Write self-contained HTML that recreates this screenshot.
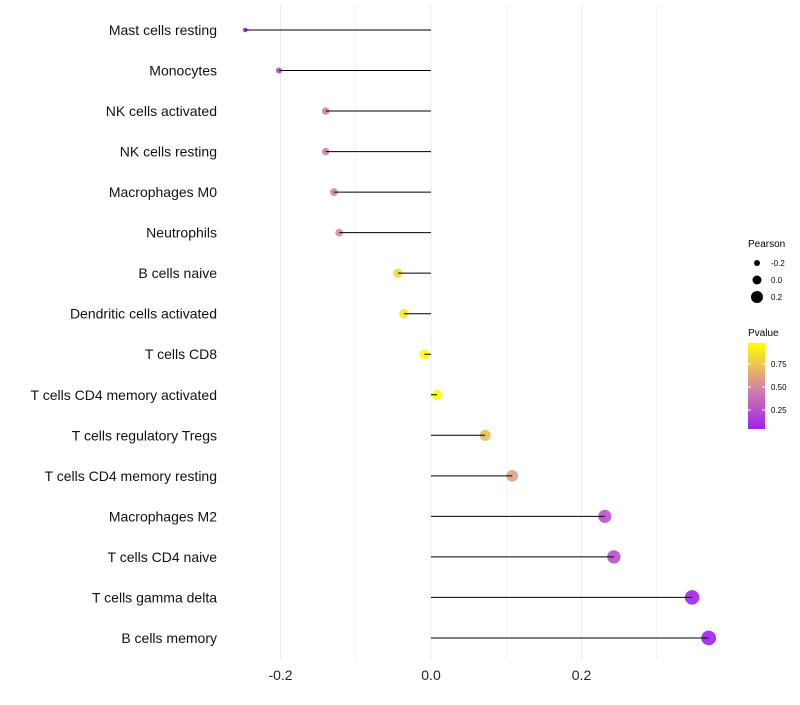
<!DOCTYPE html>
<html><head><meta charset="utf-8"><style>
body{margin:0;background:#fff;font-family:"Liberation Sans",sans-serif}
svg text{font-family:"Liberation Sans",sans-serif}
</style></head><body>
<svg id="chart" width="800" height="700" xmlns="http://www.w3.org/2000/svg">
<defs><linearGradient id="pg" x1="0" y1="1" x2="0" y2="0">
<stop offset="0" stop-color="#a020f0"/><stop offset="0.5" stop-color="#d88aa0"/><stop offset="1" stop-color="#ffff00"/></linearGradient></defs>
<g id="grid"></g><g id="points"></g><g id="stems"></g><g id="labels"></g>
<g>
<text x="748" y="247" font-size="10">Pearson</text>
<circle cx="757" cy="263" r="3" fill="#000"/><text x="771" y="266" font-size="8">-0.2</text>
<circle cx="757" cy="280" r="4.5" fill="#000"/><text x="771" y="283" font-size="8">0.0</text>
<circle cx="757" cy="297" r="6" fill="#000"/><text x="771" y="300" font-size="8">0.2</text>
</g>
<g>
<text x="748" y="336" font-size="10">Pvalue</text>
<rect x="748" y="343" width="17" height="86" fill="url(#pg)"/>
<line x1="748" x2="751" y1="364" y2="364" stroke="#fff"/><line x1="762" x2="765" y1="364" y2="364" stroke="#fff"/>
<line x1="748" x2="751" y1="387" y2="387" stroke="#fff"/><line x1="762" x2="765" y1="387" y2="387" stroke="#fff"/>
<line x1="748" x2="751" y1="410" y2="410" stroke="#fff"/><line x1="762" x2="765" y1="410" y2="410" stroke="#fff"/>
<text x="771" y="367" font-size="8">0.75</text><text x="771" y="390" font-size="8">0.50</text><text x="771" y="413" font-size="8">0.25</text>
</g>
</svg>
<script>
const categories=["Mast cells resting","Monocytes","NK cells activated","NK cells resting","Macrophages M0","Neutrophils","B cells naive","Dendritic cells activated","T cells CD8","T cells CD4 memory activated","T cells regulatory  Tregs","T cells CD4 memory resting","Macrophages M2","T cells CD4 naive","T cells gamma delta","B cells memory"];
const pearson=[-0.247,-0.202,-0.140,-0.140,-0.129,-0.122,-0.044,-0.036,-0.009,0.008,0.072,0.108,0.231,0.243,0.347,0.369];
const pvalue=[0.05,0.22,0.47,0.47,0.48,0.5,0.84,0.86,0.96,0.97,0.72,0.6,0.27,0.25,0.07,0.06];
const xTicks=[-0.2,0.0,0.2];
const xTickLabels=["-0.2","0.0","0.2"];
const ns="http://www.w3.org/2000/svg";
const X=v=>431+v*752.5;
const Y=i=>30+i*40.53;
const R=v=>Math.sqrt(Math.max(2.25,25+80*v));
function lerp(a,b,t){return a.map((x,i)=>Math.round(x+(b[i]-x)*t));}
function col(p){const t=Math.min(1,Math.max(0,(p-0.05)/0.92));
 const s=[[160,32,240],[216,138,160],[255,255,0]];
 const c=t<0.5?lerp(s[0],s[1],t*2):lerp(s[1],s[2],(t-0.5)*2);return `rgb(${c})`;}
function mk(tag,at,parent){const e=document.createElementNS(ns,tag);for(const k in at)e.setAttribute(k,at[k]);parent.appendChild(e);return e;}
const grid=document.getElementById('grid'),points=document.getElementById('points'),stems=document.getElementById('stems'),labels=document.getElementById('labels');
for(let k=-2;k<=3;k++){
 const v=k/10;
 const l=mk('line',{x1:X(v),x2:X(v),y1:5,y2:660,stroke:'#ebebeb','stroke-width':k%2===0?1:0.6},grid);
 
 
}
xTicks.forEach((v,i)=>{
 const t=mk('text',{x:X(v),y:680,'font-size':14,'text-anchor':'middle',fill:'#222'},labels);t.textContent=xTickLabels[i];
 
 
});
categories.forEach((c,i)=>{
 const t=mk('text',{x:217,y:Y(i)+5,'font-size':14,'text-anchor':'end',fill:'#111'},labels);t.textContent=c;
 
 
 const p=mk('circle',{cx:X(pearson[i]),cy:Y(i),r:R(pearson[i]),fill:col(pvalue[i]),'fill-opacity':0.9},points);
 
 
 const l=mk('line',{x1:X(0),x2:X(pearson[i]),y1:Y(i),y2:Y(i),stroke:'#000','stroke-width':1},stems);
 
 
});
</script>
</body></html>
